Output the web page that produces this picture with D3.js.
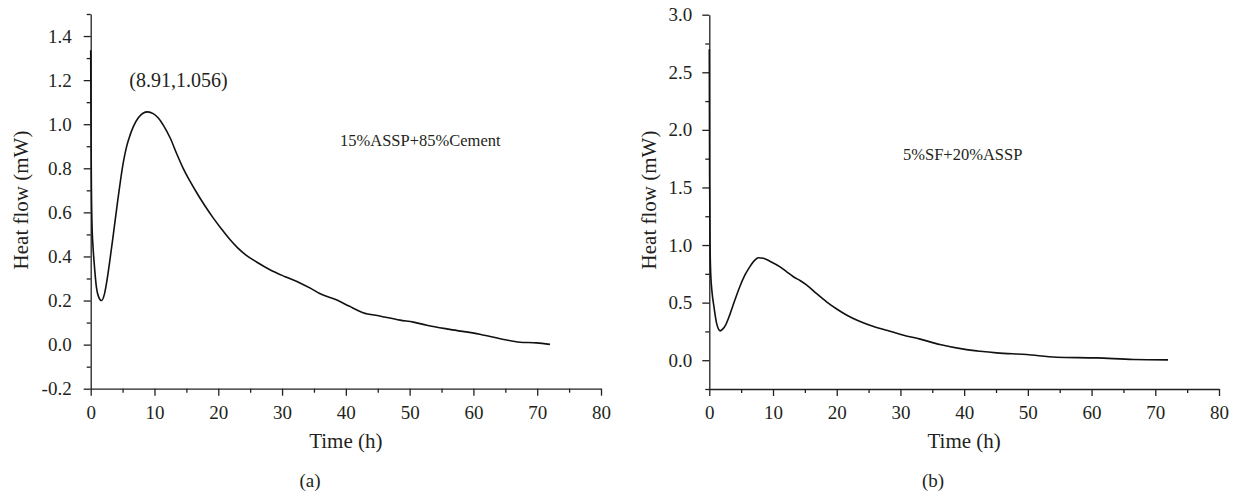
<!DOCTYPE html>
<html>
<head>
<meta charset="utf-8">
<script src="https://cdn.jsdelivr.net/npm/d3@7"></script>
<style>
  html, body { margin: 0; padding: 0; background: #fff; }
  svg { display: block; }
  text { font-family: "Liberation Serif", "Times New Roman", serif; fill: #231f20; }
</style>
</head>
<body>
<svg id="chart" width="1233" height="494"></svg>
<script>
// Heat flow curves (time in h, heat flow in mW)
const timeA = [0.0, 0.05, 0.1, 0.2, 0.35, 0.52, 0.9, 1.2, 1.7, 2.2, 2.6, 2.9, 3.55, 4.2, 5.1, 5.6, 6.0, 6.7, 7.5, 8.2, 8.91, 9.8, 10.6, 11.4, 12.5, 13.5, 14.5, 15.5, 16.6, 17.9, 19.2, 20.5, 21.8, 23.0, 24.4, 26.0, 28.1, 30.5, 32.8, 34.5, 35.9, 38.6, 40.5, 42.7, 45.3, 48.5, 50.6, 52.7, 56.3, 61.0, 64.2, 67.3, 69.9, 72.0];
const heatA = [1.336, 1.0, 0.75, 0.55, 0.45, 0.38, 0.26, 0.22, 0.20, 0.235, 0.30, 0.36, 0.50, 0.645, 0.825, 0.895, 0.935, 0.99, 1.03, 1.05, 1.056, 1.048, 1.028, 0.995, 0.935, 0.865, 0.80, 0.745, 0.69, 0.63, 0.575, 0.525, 0.478, 0.44, 0.405, 0.375, 0.34, 0.308, 0.28, 0.255, 0.232, 0.202, 0.175, 0.145, 0.13, 0.111, 0.102, 0.088, 0.069, 0.047, 0.027, 0.011, 0.008, 0.001];

const timeB = [0.0, 0.05, 0.12, 0.22, 0.45, 0.74, 1.15, 1.4, 1.7, 2.1, 2.6, 3.25, 4.0, 4.8, 5.6, 6.4, 7.0, 7.7, 8.5, 9.5, 11.1, 12.2, 13.2, 14.3, 15.3, 16.8, 18.4, 20.0, 21.6, 23.3, 25.2, 27.8, 30.5, 33.1, 36.2, 39.9, 42.5, 45.1, 49.8, 54.5, 60.8, 66.6, 72.0];
const heatB = [2.70, 1.6, 1.0, 0.754, 0.58, 0.46, 0.32, 0.275, 0.255, 0.27, 0.31, 0.40, 0.52, 0.64, 0.74, 0.815, 0.86, 0.89, 0.885, 0.86, 0.811, 0.765, 0.725, 0.69, 0.652, 0.58, 0.507, 0.445, 0.391, 0.345, 0.304, 0.26, 0.217, 0.183, 0.136, 0.096, 0.078, 0.064, 0.049, 0.026, 0.02, 0.006, 0.003];

const xTicks = [0, 10, 20, 30, 40, 50, 60, 70, 80];
const xMinorTicks = [5, 15, 25, 35, 45, 55, 65, 75];
const yTicksA = [-0.2, 0.0, 0.2, 0.4, 0.6, 0.8, 1.0, 1.2, 1.4];
const yMinorA = [-0.1, 0.1, 0.3, 0.5, 0.7, 0.9, 1.1, 1.3, 1.5];
const yTicksB = [0.0, 0.5, 1.0, 1.5, 2.0, 2.5, 3.0];
const yMinorB = [-0.25, 0.25, 0.75, 1.25, 1.75, 2.25, 2.75];

const peakLabel = "(8.91,1.056)";
const peakA = { t: 8.91, v: 1.056 };

const SERIF = '"Liberation Serif", "Times New Roman", serif';
const svg = d3.select("#chart");

function panel(cfg) {
  const x = d3.scaleLinear().domain([0, 80]).range([cfg.left, cfg.right]);
  const y = d3.scaleLinear().domain(cfg.yDomain).range([cfg.bottom, cfg.top]);
  const g = svg.append("g");

  // minor ticks
  g.append("g").attr("transform", `translate(0,${cfg.bottom})`)
    .call(d3.axisBottom(x).tickValues(xMinorTicks).tickSize(4).tickFormat(""))
    .call(a => a.select(".domain").remove());
  g.append("g").attr("transform", `translate(${cfg.left},0)`)
    .call(d3.axisLeft(y).tickValues(cfg.yMinor).tickSize(4).tickFormat(""))
    .call(a => a.select(".domain").remove());

  // major axes
  const xa = g.append("g").attr("transform", `translate(0,${cfg.bottom})`)
    .call(d3.axisBottom(x).tickValues(xTicks).tickSize(7).tickSizeOuter(0).tickPadding(10).tickFormat(d => String(d)))
    .attr("font-family", SERIF).attr("font-size", 19);
  const ya = g.append("g").attr("transform", `translate(${cfg.left},0)`)
    .call(d3.axisLeft(y).tickValues(cfg.yTicks).tickSize(7).tickSizeOuter(0).tickPadding(cfg.yPad).tickFormat(d => d.toFixed(1)))
    .attr("font-family", SERIF).attr("font-size", 19);
  xa.selectAll("text").attr("fill", "#231f20");
  ya.selectAll("text").attr("fill", "#231f20");
  g.selectAll(".domain, .tick line").attr("stroke", "#231f20").attr("stroke-width", 1.3);

  // axis titles
  g.append("text").attr("x", (cfg.left + cfg.right) / 2).attr("y", 448)
    .attr("text-anchor", "middle").style("font-size", "21px").text("Time (h)");
  g.append("text").attr("transform", `translate(${cfg.yTitleX},${cfg.yTitleY}) rotate(-90)`)
    .attr("text-anchor", "middle").attr("dy", "0.35em").style("font-size", "21px").text("Heat flow (mW)");

  // curve
  const pts = cfg.t.map((t, i) => [t, cfg.v[i]]);
  g.append("path").datum(pts)
    .attr("fill", "none").attr("stroke", "#111").attr("stroke-width", 1.6)
    .attr("stroke-linejoin", "round")
    .attr("d", d3.line().x(d => x(d[0])).y(d => y(d[1])).curve(d3.curveMonotoneX));

  // sample label
  g.append("text").attr("x", cfg.labelX).attr("y", cfg.labelY)
    .style("font-size", "16.5px").text(cfg.label);

  // panel letter
  g.append("text").attr("x", cfg.letterX).attr("y", 487)
    .attr("text-anchor", "middle").style("font-size", "19px").text(cfg.letter);

  return { x, y, g };
}

const a = panel({
  left: 90.7, right: 601, top: 14, bottom: 388.7,
  yDomain: [-0.2, 1.5], yTicks: yTicksA, yMinor: yMinorA, yPad: 12,
  yTitleX: 21, yTitleY: 200,
  t: timeA, v: heatA,
  label: "15%ASSP+85%Cement", labelX: 340, labelY: 146,
  letter: "(a)", letterX: 310
});

a.g.append("text").attr("x", a.x(peakA.t) + 31).attr("y", a.y(peakA.v) - 25)
  .attr("text-anchor", "middle").style("font-size", "20px").text(peakLabel);

panel({
  left: 709.3, right: 1219, top: 14.7, bottom: 389,
  yDomain: [-0.25, 3.0], yTicks: yTicksB, yMinor: yMinorB, yPad: 10,
  yTitleX: 649, yTitleY: 200,
  t: timeB, v: heatB,
  label: "5%SF+20%ASSP", labelX: 903, labelY: 160,
  letter: "(b)", letterX: 933
});
</script>
</body>
</html>
